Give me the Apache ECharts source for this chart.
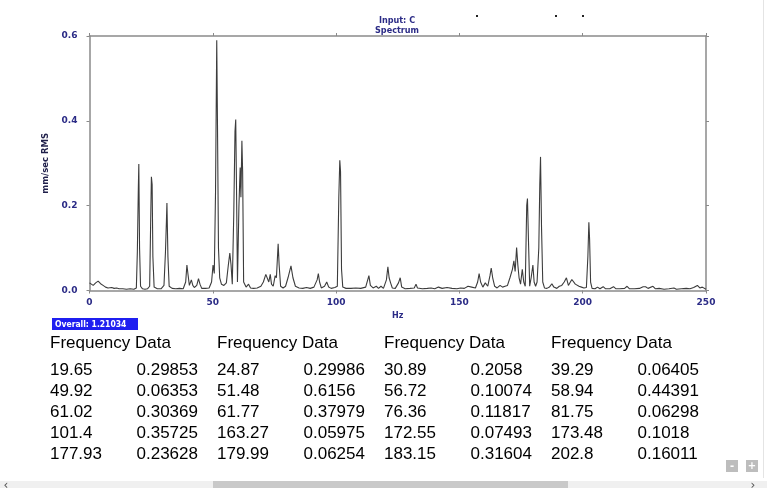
<!DOCTYPE html>
<html>
<head>
<meta charset="utf-8">
<script src="https://cdn.jsdelivr.net/npm/echarts@6/dist/echarts.min.js"></script>
<style>
html,body{margin:0;padding:0;background:#fff;}
#c{width:767px;height:488px;}
</style>
</head>
<body>
<div id="c"></div>
<script>
// Spectrum (Hz, mm/sec RMS)
const spectrum = [
[0,0.018],[0.8,0.016],[1.5,0.012],[2.5,0.018],[3.5,0.022],[4.5,0.016],[5.5,0.012],[6.5,0.008],[7.5,0.006],[9,0.007],
[10,0.005],[11,0.006],[12,0.004],[13.5,0.004],[15,0.003],[16.5,0.004],[18,0.003],
[19.0,0.006],[19.4,0.09],[19.8,0.24],[20.0,0.298],[20.3,0.1],[20.7,0.01],[21.5,0.004],[22.5,0.003],[23.5,0.004],
[24.4,0.01],[24.8,0.16],[25.1,0.268],[25.4,0.25],[25.7,0.08],[26.2,0.008],[27.5,0.004],[29,0.004],
[30.2,0.012],[30.8,0.09],[31.2,0.165],[31.4,0.206],[31.8,0.08],[32.3,0.01],[33.5,0.005],[35,0.004],[36.5,0.005],[38,0.004],
[39,0.02],[39.5,0.06],[39.9,0.04],[40.5,0.012],[41.3,0.025],[41.9,0.012],[42.5,0.007],[43.5,0.012],[44.2,0.028],[44.8,0.015],
[45.5,0.005],[47,0.005],[48.5,0.006],[49.5,0.02],[50.1,0.06],[50.6,0.04],[51.1,0.23],[51.6,0.59],[51.9,0.39],[52.3,0.1],
[52.8,0.03],[53.5,0.015],[54.5,0.012],[55.5,0.018],[56.3,0.06],[56.9,0.088],[57.4,0.06],[57.9,0.015],
[58.5,0.18],[59.0,0.375],[59.3,0.403],[59.6,0.25],[60.0,0.02],[60.6,0.2],[61.1,0.29],[61.4,0.22],[61.8,0.353],[62.1,0.28],
[62.5,0.02],[63.5,0.008],[64.5,0.015],[65.3,0.006],[66.5,0.005],[68,0.006],[69.5,0.01],[70.5,0.02],[71.5,0.038],[72.2,0.04],
[72.7,0.02],[73.3,0.038],[73.8,0.015],[74.5,0.01],[75.3,0.035],[75.8,0.03],[76.5,0.11],[76.9,0.06],[77.5,0.01],[78.5,0.006],
[79.5,0.01],[80.5,0.03],[81.7,0.058],[82.5,0.03],[83.5,0.01],[85,0.006],[86.5,0.005],[88,0.007],[89.5,0.005],
[91,0.008],[92.3,0.025],[92.8,0.04],[93.3,0.02],[94,0.006],[95.3,0.01],[96.2,0.02],[97,0.008],[98,0.005],[99.5,0.007],
[100.5,0.01],[101.1,0.22],[101.5,0.307],[101.8,0.28],[102.2,0.05],[102.7,0.008],[104,0.005],[106,0.005],[108,0.006],[110,0.005],
[112,0.008],[113.3,0.035],[113.9,0.012],[115,0.006],[116.3,0.01],[117.2,0.005],[118.2,0.01],[119.2,0.005],
[120.4,0.025],[121.0,0.056],[121.5,0.03],[122.1,0.018],[122.8,0.006],[124,0.005],[125.3,0.018],[126,0.03],[126.6,0.008],
[128,0.004],[130,0.005],[131.7,0.006],[132.4,0.015],[133,0.006],[135,0.004],[137,0.005],[138.5,0.006],[140,0.004],
[141.5,0.008],[143,0.005],[145,0.007],[147,0.005],[149,0.004],[150.5,0.006],[152,0.005],[153.5,0.01],[155,0.008],
[156.5,0.006],[157.4,0.02],[158,0.04],[158.6,0.02],[159.5,0.008],[160.5,0.018],[161.5,0.01],[162.4,0.035],[162.9,0.053],
[163.5,0.03],[164.3,0.01],[165.3,0.006],[166.5,0.012],[167.5,0.008],[168.5,0.01],[169.5,0.012],[170.5,0.03],[171.5,0.05],
[172.1,0.07],[172.6,0.045],[173.2,0.101],[173.7,0.06],[174.2,0.03],[174.8,0.015],[175.5,0.05],[176.1,0.02],[176.7,0.01],
[177.3,0.2],[177.6,0.217],[178.0,0.12],[178.5,0.01],[179.1,0.03],[179.8,0.06],[180.3,0.02],[180.9,0.01],[181.5,0.02],
[182.2,0.1],[182.6,0.25],[182.9,0.315],[183.3,0.15],[183.8,0.02],[184.5,0.006],[185.5,0.005],[186.5,0.008],[187.5,0.016],
[188.3,0.008],[189.5,0.005],[190.5,0.01],[191.5,0.012],[192.5,0.02],[193.4,0.03],[194.2,0.012],[195,0.02],[195.6,0.026],
[196.3,0.022],[197,0.015],[197.8,0.018],[198.5,0.01],[199.5,0.008],[200.5,0.006],[201.5,0.007],[202.1,0.08],[202.5,0.161],
[202.8,0.12],[203.2,0.02],[203.8,0.005],[205,0.004],[206,0.008],[207,0.004],[208.3,0.009],[209.3,0.004],[211,0.004],
[212.5,0.009],[213.5,0.004],[215,0.004],[217,0.005],[218,0.01],[219,0.004],[221,0.004],[223,0.005],[224.5,0.009],
[225.5,0.009],[226.5,0.005],[228.5,0.01],[229.5,0.004],[231,0.005],[233,0.003],[235,0.004],[237,0.006],[238,0.003],
[240,0.004],[242,0.005],[243.5,0.004],[245,0.007],[246.5,0.012],[247.5,0.006],[248.5,0.008],[249.3,0.004],[250,0.003]
];

// Peak table (as printed)
const peakFreqs = [
  ["19.65","24.87","30.89","39.29"],
  ["49.92","51.48","56.72","58.94"],
  ["61.02","61.77","76.36","81.75"],
  ["101.4","163.27","172.55","173.48"],
  ["177.93","179.99","183.15","202.8"]
];
const peakValues = [
  ["0.29853","0.29986","0.2058","0.06405"],
  ["0.06353","0.6156","0.10074","0.44391"],
  ["0.30369","0.37979","0.11817","0.06298"],
  ["0.35725","0.05975","0.07493","0.1018"],
  ["0.23628","0.06254","0.31604","0.16011"]
];
const tableHeader = "Frequency Data";
const overallText = "Overall: 1.21034";
const titleLines = ["Input: C", "Spectrum"];
const xName = "Hz";
const yName = "mm/sec RMS";

const navy = '#2b2b86';
const axisGray = '#8a8a8a';
const small = {fontFamily:'DejaVu Sans', fontWeight:'bold', fontSize:9, color:navy};

const graphics = [];
// title
graphics.push({type:'text', x:397, y:20.5, style:{text:titleLines[0], textAlign:'center', textVerticalAlign:'middle', font:'bold 9px "DejaVu Sans Condensed","DejaVu Sans"', fill:navy}});
graphics.push({type:'text', x:397, y:31, style:{text:titleLines[1], textAlign:'center', textVerticalAlign:'middle', font:'bold 9px "DejaVu Sans Condensed","DejaVu Sans"', fill:navy}});
// stray dots at top
[[476,15],[555,15],[582,15]].forEach(p=>graphics.push({type:'rect', shape:{x:p[0],y:p[1],width:2,height:2}, style:{fill:'#222'}}));
// overall box
graphics.push({type:'rect', shape:{x:52,y:318,width:86,height:12}, style:{fill:'#1f1ff0'}});
graphics.push({type:'text', x:55, y:324.5, style:{text:overallText, textVerticalAlign:'middle', font:'bold 8.5px "DejaVu Sans Condensed","DejaVu Sans"', fill:'#fff'}});
// table
const groupX = [50, 217, 384, 551];
const valOff = 86.5;
const tFont = '17px "Liberation Sans"';
groupX.forEach((gx, g) => {
  graphics.push({type:'text', x:gx, y:343, style:{text:tableHeader, textVerticalAlign:'middle', font:tFont, fill:'#000'}});
  for (let r = 0; r < peakFreqs.length; r++) {
    const y = 370 + 21.2*r;
    graphics.push({type:'text', x:gx, y:y, style:{text:peakFreqs[r][g], textVerticalAlign:'middle', font:tFont, fill:'#000'}});
    graphics.push({type:'text', x:gx+valOff, y:y, style:{text:peakValues[r][g], textVerticalAlign:'middle', font:tFont, fill:'#000'}});
  }
});
// zoom buttons
graphics.push({type:'rect', shape:{x:726,y:460,width:12,height:12}, style:{fill:'#bdbdbd'}});
graphics.push({type:'rect', shape:{x:746,y:460,width:12,height:12}, style:{fill:'#bdbdbd'}});
graphics.push({type:'text', x:732, y:466, style:{text:'-', textAlign:'center', textVerticalAlign:'middle', font:'bold 10px "DejaVu Sans"', fill:'#fff'}});
graphics.push({type:'text', x:752, y:466, style:{text:'+', textAlign:'center', textVerticalAlign:'middle', font:'bold 10px "DejaVu Sans"', fill:'#fff'}});
// scrollbar
graphics.push({type:'rect', shape:{x:0,y:481,width:767,height:7}, style:{fill:'#f0f0f0'}});
graphics.push({type:'rect', shape:{x:213,y:481,width:355,height:7}, style:{fill:'#c9c9c9'}});
graphics.push({type:'text', x:6, y:486, style:{text:'‹', textAlign:'center', textVerticalAlign:'middle', font:'12px "DejaVu Sans"', fill:'#555'}});
graphics.push({type:'text', x:753, y:486, style:{text:'›', textAlign:'center', textVerticalAlign:'middle', font:'12px "DejaVu Sans"', fill:'#555'}});
// right edge line
graphics.push({type:'line', shape:{x1:763.5,y1:0,x2:763.5,y2:478}, style:{stroke:'#e4e4e4', lineWidth:1}});

const chart = echarts.init(document.getElementById('c'), null, {renderer:'canvas'});
const axisLineStyle = {color:axisGray, width:1.5};
chart.setOption({
  animation:false,
  backgroundColor:'#fff',
  grid:{left:89.5, right:61, top:36, bottom:197.5, containLabel:false},
  xAxis:[
    {type:'value', min:0, max:250, interval:50, position:'bottom',
     name:xName, nameLocation:'middle', nameGap:20,
     nameTextStyle:{fontFamily:'DejaVu Sans', fontWeight:'bold', fontSize:8, color:navy},
     axisLine:{show:true, onZero:false, lineStyle:axisLineStyle},
     axisTick:{show:true, length:3, lineStyle:{color:axisGray}},
     axisLabel:Object.assign({margin:8}, small),
     splitLine:{show:false}},
    {type:'value', min:0, max:250, interval:50, position:'top',
     axisLine:{show:true, onZero:false, lineStyle:axisLineStyle},
     axisTick:{show:true, length:3, lineStyle:{color:axisGray}},
     axisLabel:{show:false}, splitLine:{show:false}}
  ],
  yAxis:[
    {type:'value', min:0, max:0.6, interval:0.2, position:'left',
     name:yName, nameLocation:'middle', nameGap:29, nameRotate:90,
     nameTextStyle:{fontFamily:'DejaVu Sans', fontWeight:'bold', fontSize:8.5, color:'#1f1f4a'},
     axisLine:{show:true, onZero:false, lineStyle:axisLineStyle},
     axisTick:{show:true, length:3, lineStyle:{color:axisGray}},
     axisLabel:Object.assign({margin:12, formatter:v=>v.toFixed(1)}, small),
     splitLine:{show:false}},
    {type:'value', min:0, max:0.6, interval:0.2, position:'right',
     axisLine:{show:true, onZero:false, lineStyle:axisLineStyle},
     axisTick:{show:true, length:3, lineStyle:{color:axisGray}},
     axisLabel:{show:false}, splitLine:{show:false}}
  ],
  series:[{
    type:'line', data:spectrum, xAxisIndex:0, yAxisIndex:0,
    showSymbol:false, symbol:'none',
    lineStyle:{color:'#3c3c3c', width:1.1},
    z:3
  }],
  graphic:graphics
});
</script>
</body>
</html>
